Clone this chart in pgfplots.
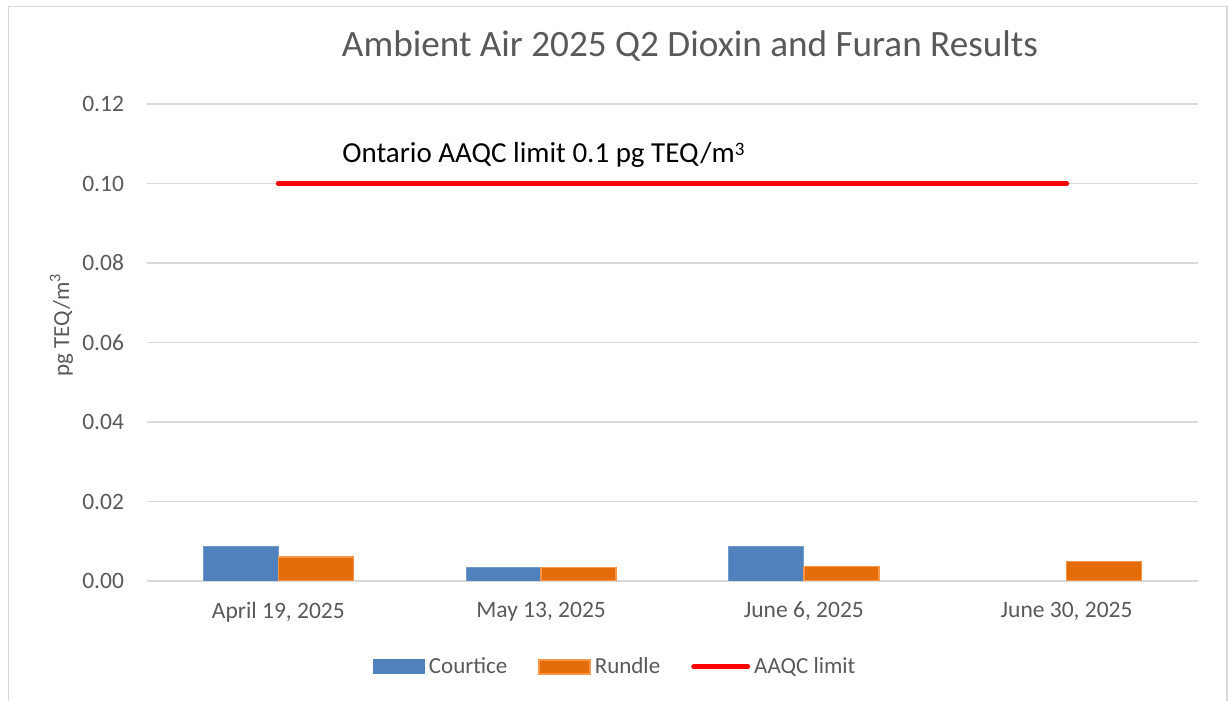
\documentclass[border=0pt]{standalone}
\usepackage{fontspec}
\setmainfont{Carlito}
\usepackage{pgfplots}
\pgfplotsset{compat=1.18}
\definecolor{cblue}{HTML}{4F81BD}
\definecolor{corange}{HTML}{E46C0A}
\definecolor{corangeedge}{HTML}{F79646}
\definecolor{tgray}{HTML}{595959}
\definecolor{ggray}{HTML}{D9D9D9}
\begin{document}
\begin{tikzpicture}
\path[use as bounding box] (0,0) rectangle (614pt,350.5pt);
\draw[ggray, line width=0.8pt] (4.25pt,-5pt) -- (4.25pt,347.25pt) -- (613.6pt,347.25pt) -- (613.6pt,-5pt);
\node[anchor=base, text=tgray, font=\fontsize{18.6}{22}\selectfont] at (345pt,322pt) {Ambient Air 2025 Q2 Dioxin and Furan Results};
\begin{axis}[
  at={(73.5pt,60pt)}, anchor=south west,
  scale only axis, width=525.5pt, height=238.5pt,
  xmin=-0.5, xmax=3.5, ymin=0, ymax=0.12,
  ytick={0,0.02,0.04,0.06,0.08,0.1,0.12},
  xtick={0,1,2,3},
  xticklabels={{April 19, 2025},{May 13, 2025},{June 6, 2025},{June 30, 2025}},
  axis line style={draw=none},
  major tick length=0pt,
  ymajorgrids,
  grid style={ggray, line width=0.75pt},
  ticklabel style={font=\fontsize{11.75}{14}\selectfont, text=tgray},
  yticklabel style={xshift=-8pt, /pgf/number format/fixed, /pgf/number format/fixed zerofill, /pgf/number format/precision=2, /pgf/number format/assume math mode=true},
  xticklabel style={yshift=-7pt},
  ylabel={pg TEQ/m\textsuperscript{3}},
  every axis y label/.style={at={(rel axis cs:-0.0814,0.537)}, rotate=90, anchor=center, font=\fontsize{11.5}{13}\selectfont, text=tgray},
  legend style={at={(rel axis cs:0.4465,-0.18)}, anchor=center, draw=none, fill=none,
    font=\fontsize{11.5}{14}\selectfont, text=tgray,
    /tikz/every even column/.append style={column sep=13.5pt}},
  legend columns=3,
  legend cell align=left,
]
\addplot[ybar, bar width=37.5pt, bar shift=-18.75pt, fill=cblue, draw=cblue!80!white, line width=0.4pt,
  legend image code/.code={\fill[cblue] (0pt,-3.5pt) rectangle (25.5pt,3.5pt);}]
  coordinates {(0,0.0087) (1,0.0035) (2,0.0088)};
\addlegendentry{Courtice}
\addplot[ybar, bar width=37.5pt, bar shift=18.75pt, fill=corange, draw=corangeedge, line width=0.7pt,
  legend image code/.code={\fill[corange, draw=corangeedge, line width=0.7pt] (0pt,-3.5pt) rectangle (25.5pt,3.5pt);}]
  coordinates {(0,0.0060) (1,0.0034) (2,0.0037) (3,0.0049)};
\addlegendentry{Rundle}
\addplot[red, line width=2.5pt, line cap=round,
  legend image code/.code={\draw[red, line width=2.5pt, line cap=round] (0pt,0pt) -- (27pt,0pt);}]
  coordinates {(0,0.1) (3,0.1)};
\addlegendentry{AAQC limit}
\node[anchor=base west, inner sep=0pt, font=\fontsize{14.5}{17}\selectfont] at (axis cs:0.242,0.1052) {Ontario AAQC limit 0.1 pg TEQ/m\raisebox{0.55ex}{\fontsize{9.5}{10}\selectfont 3}};
\end{axis}
\end{tikzpicture}
\end{document}
